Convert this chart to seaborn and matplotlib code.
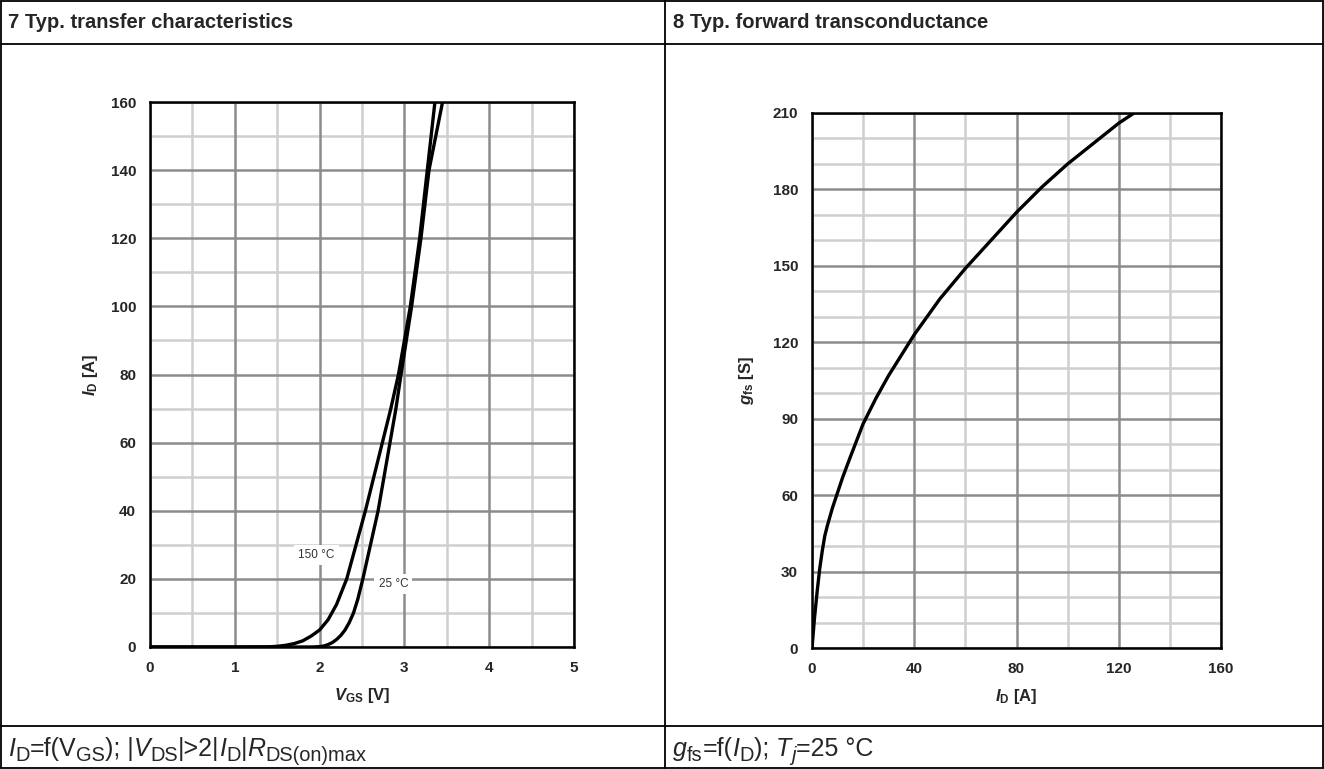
import numpy as np
import pandas as pd
import matplotlib
matplotlib.use("Agg")
import matplotlib.pyplot as plt
from matplotlib.lines import Line2D
import seaborn as sns

# ---------------- data ----------------
vgs_150 = [0.0, 1.0, 1.4, 1.5, 1.6, 1.7, 1.8, 1.9, 2.0, 2.1, 2.2, 2.32, 2.43, 2.54, 2.64,
           2.74, 2.84, 2.93, 3.0, 3.07, 3.18, 3.27, 3.36]
id_150 = [0.0, 0.0, 0.05, 0.2, 0.5, 1.0, 1.8, 3.2, 5.0, 8.0, 12.5, 20.0, 30.0, 40.0, 50.0,
          60.0, 70.0, 80.0, 90.0, 100.0, 120.0, 140.0, 160.0]
vgs_25 = [0.0, 1.9, 2.0, 2.05, 2.1, 2.15, 2.2, 2.25, 2.3, 2.35, 2.4, 2.45, 2.51, 2.6, 2.69,
          2.76, 2.83, 2.9, 2.96, 3.085, 3.195, 3.29, 3.37, 3.45]
id_25 = [0.0, 0.0, 0.1, 0.3, 0.7, 1.3, 2.2, 3.4, 5.0, 7.2, 10.0, 14.0, 20.0, 30.0, 40.0,
         50.0, 60.0, 70.0, 80.0, 100.0, 120.0, 140.0, 150.0, 160.0]

id_fwd = [0.0, 1.0, 2.0, 3.0, 4.0, 5.0, 6.0, 8.0, 10.0, 12.0, 15.0, 20.0, 25.0, 30.0, 35.0,
          40.0, 50.0, 60.0, 70.0, 80.0, 90.0, 100.0, 110.0, 120.0, 126.0]
gfs_fwd = [0.0, 12.0, 22.0, 31.0, 38.0, 44.0, 48.0, 55.0, 61.0, 67.0, 75.0, 88.0, 98.0, 107.0, 115.0,
           123.0, 137.0, 149.0, 160.0, 171.0, 181.0, 190.0, 198.0, 206.0, 210.0]

left_xticks = [0, 1, 2, 3, 4, 5]
left_yticks = [0, 20, 40, 60, 80, 100, 120, 140, 160]
right_xticks = [0, 40, 80, 120, 160]
right_yticks = [0, 30, 60, 90, 120, 150, 180, 210]

title_left = "7 Typ. transfer characteristics"
title_right = "8 Typ. forward transconductance"

# ---------------- style ----------------
sns.set_theme(style="white")
plt.rcParams["font.family"] = ["Liberation Sans", "DejaVu Sans"]
plt.rcParams["mathtext.fontset"] = "custom"
plt.rcParams["mathtext.rm"] = "Liberation Sans"
plt.rcParams["mathtext.it"] = "Liberation Sans:italic"
plt.rcParams["mathtext.bf"] = "Liberation Sans:bold"
plt.rcParams["mathtext.bfit"] = "Liberation Sans:bold:italic"

W, H = 1324, 769
fig = plt.figure(figsize=(W / 100, H / 100), dpi=100)
fig.patch.set_facecolor("white")
renderer = fig.canvas.get_renderer()


def ax_rect(x0, y0, x1, y1):
    return [x0 / W, (H - y1) / H, (x1 - x0) / W, (y1 - y0) / H]


def fline(x0, y0, x1, y1, lw=1.3):
    fig.add_artist(Line2D([x0 / W, x1 / W], [(H - y0) / H, (H - y1) / H],
                          color="black", lw=lw, transform=fig.transFigure))


def rich_text(x_px, y_px, pieces, size, sub_scale=0.8, sub_drop=0.2):
    """pieces: list of (text, italic, subscript)"""
    x = x_px
    for txt, ital, sub in pieces:
        fs = size * sub_scale if sub else size
        dy = size * sub_drop * 100 / 72 if sub else 0
        t = fig.text(x / W, (H - y_px - dy) / H, txt, fontsize=fs,
                     fontstyle="italic" if ital else "normal",
                     va="baseline", ha="left")
        x += t.get_window_extent(renderer=renderer).width
    return x


# table borders
fline(1, 1, W - 1, 1)
fline(1, H - 1, W - 1, H - 1)
fline(1, 1, 1, H - 1)
fline(W - 1, 1, W - 1, H - 1)
fline(1, 44, W - 1, 44)
fline(1, 726, W - 1, 726)
fline(665, 1, 665, H - 1)

fig.text(8 / W, (H - 23) / H, title_left, fontsize=14.5, fontweight="bold", va="center", ha="left")
fig.text(673 / W, (H - 23) / H, title_right, fontsize=14.5, fontweight="bold", va="center", ha="left")

fsz = 18
rich_text(8, 756, [("I", True, False), ("D", False, True), ("=f(V", False, False),
                   ("GS", False, True), ("); |", False, False), ("V", True, False),
                   ("DS", False, True), ("|>2|", False, False), ("I", True, False),
                   ("D", False, True), ("|", False, False), ("R", True, False),
                   ("DS(on)max", False, True)], fsz)
rich_text(673, 756, [("g", True, False), ("fs", False, True), ("=f(", False, False),
                     ("I", True, False), ("D", False, True), ("); ", False, False),
                     ("T", True, False), ("j", True, True), ("=25 °C", False, False)], fsz)

major_c = "#8c8c8c"
minor_c = "#cfcfcf"


def style_axes(ax, xmajor, ymajor, xminor, yminor, xlim, ylim):
    ax.set_xlim(*xlim)
    ax.set_ylim(*ylim)
    for v in xminor:
        ax.axvline(v, color=minor_c, lw=1.8, zorder=0)
    for v in yminor:
        ax.axhline(v, color=minor_c, lw=1.8, zorder=0)
    for v in xmajor:
        ax.axvline(v, color=major_c, lw=1.8, zorder=0.5)
    for v in ymajor:
        ax.axhline(v, color=major_c, lw=1.8, zorder=0.5)
    ax.set_xticks(xmajor)
    ax.set_yticks(ymajor)
    ax.tick_params(axis="both", which="major", direction="out", length=4, width=1,
                   color="#666666", labelsize=11, pad=6)
    for lab in ax.get_xticklabels() + ax.get_yticklabels():
        lab.set_fontweight("bold")
    for s in ax.spines.values():
        s.set_color("black")
        s.set_linewidth(1.8)
        s.set_visible(True)
        s.set_zorder(3)


# ---------------- left chart ----------------
axL = fig.add_axes(ax_rect(150, 102, 574, 647))
df_t = pd.concat([
    pd.DataFrame({"VGS": vgs_150, "ID": id_150, "T": "150 °C"}),
    pd.DataFrame({"VGS": vgs_25, "ID": id_25, "T": "25 °C"}),
])
sns.lineplot(data=df_t, x="VGS", y="ID", units="T", estimator=None, sort=False,
             color="black", lw=2.4, ax=axL, zorder=4)
style_axes(axL, left_xticks, left_yticks,
           list(np.arange(0.5, 5, 1.0)), list(np.arange(10, 160, 20)),
           (0, 5), (0, 160))
axL.set_xlabel(r"$\mathbfit{V}_\mathbf{GS}$ [V]", fontsize=12, fontweight="bold", labelpad=8)
axL.set_ylabel(r"$\mathbfit{I}_\mathbf{D}$ [A]", fontsize=12, fontweight="bold", labelpad=8)
bbox = dict(facecolor="white", edgecolor="none", pad=3)
axL.text(1.96, 27, "150 °C", fontsize=8.5, color="#333333", ha="center", va="center", bbox=bbox, zorder=2)
axL.text(2.87, 18.5, "25 °C", fontsize=8.5, color="#333333", ha="center", va="center", bbox=bbox, zorder=2)

# ---------------- right chart ----------------
axR = fig.add_axes(ax_rect(812, 113, 1221, 648))
df_g = pd.DataFrame({"ID": id_fwd, "gfs": gfs_fwd})
sns.lineplot(data=df_g, x="ID", y="gfs", sort=False, color="black", lw=2.4, ax=axR, zorder=4)
style_axes(axR, right_xticks, right_yticks,
           list(np.arange(20, 160, 40)), [v for v in range(10, 210, 10) if v % 30 != 0],
           (0, 160), (0, 210))
axR.set_xlabel(r"$\mathbfit{I}_\mathbf{D}$ [A]", fontsize=12, fontweight="bold", labelpad=8)
axR.set_ylabel(r"$\mathbfit{g}_\mathbf{fs}$ [S]", fontsize=12, fontweight="bold", labelpad=12)

fig.savefig("out.png", dpi=100, facecolor="white")
